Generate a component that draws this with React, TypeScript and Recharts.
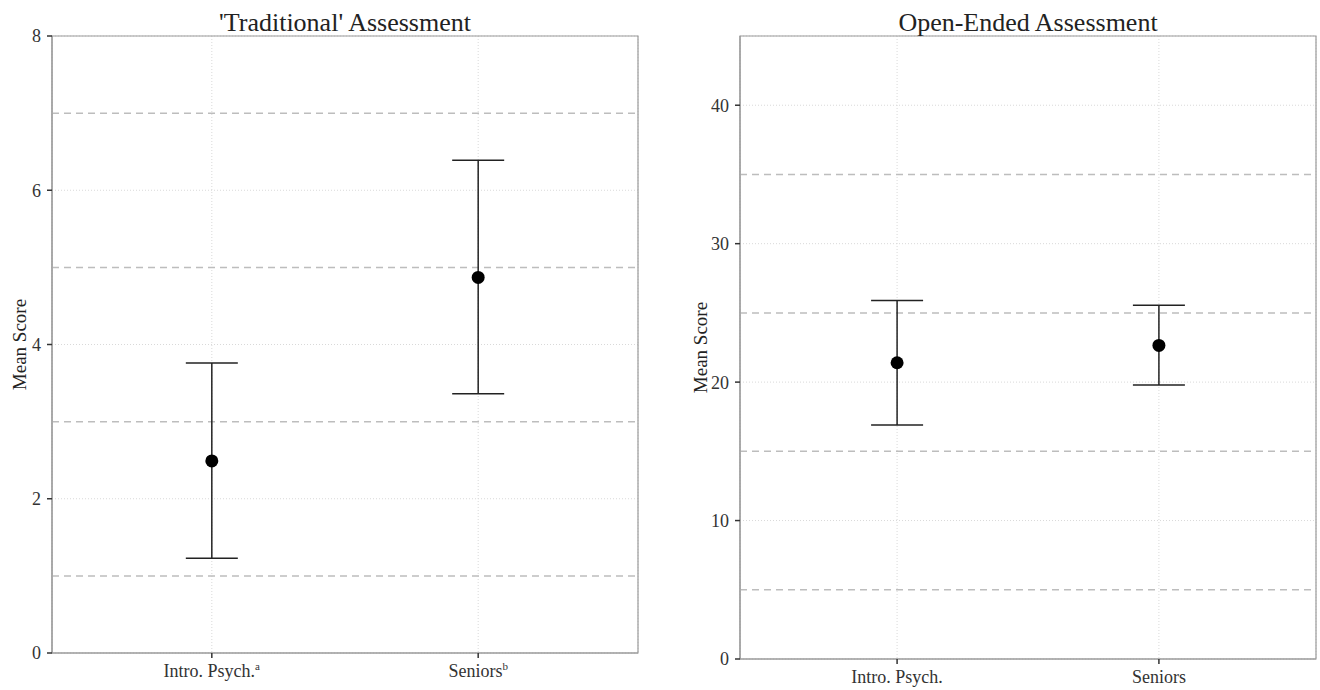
import React from 'react';
import {
  ComposedChart,
  Scatter,
  ErrorBar,
  XAxis,
  YAxis,
  CartesianGrid,
  ReferenceLine,
  ReferenceArea,
} from 'recharts';

const categories = ['Intro. Psych.', 'Seniors'];
const tradNotes = ['a', 'b'];

const tradMean = [2.49, 4.87];
const tradLow = [1.23, 3.36];
const tradHigh = [3.76, 6.39];
const tradTicks = [0, 2, 4, 6, 8];
const tradDashed = [1, 3, 5, 7];

const openMean = [21.4, 22.65];
const openLow = [16.9, 19.8];
const openHigh = [25.9, 25.55];
const openTicks = [0, 10, 20, 30, 40];
const openDashed = [5, 15, 25, 35];

const FONT = '"Liberation Serif", "DejaVu Serif", serif';

// error bar offsets are what ErrorBar wants: [below, above]
function rows(mean: number[], low: number[], high: number[]) {
  return categories.map((c, i) => ({
    x: i + 1,
    name: c,
    mean: mean[i],
    err: [mean[i] - low[i], high[i] - mean[i]],
  }));
}

const XTick = (props: any) => {
  const { x, y, payload, notes } = props;
  const i = payload.value - 1;
  return (
    <text x={x} y={y} dy={13} textAnchor="middle" fill="#333" fontSize={18} fontFamily={FONT}>
      {categories[i]}
      {notes && (
        <tspan dy={-7} fontSize={11}>
          {notes[i]}
        </tspan>
      )}
    </text>
  );
};

const YTitle = (props: any) => {
  const { viewBox, dx } = props;
  const x = viewBox.x + dx;
  const y = viewBox.y + viewBox.height / 2;
  return (
    <text
      x={x}
      y={y}
      transform={`rotate(-90 ${x} ${y})`}
      textAnchor="middle"
      fill="#222"
      fontSize={19}
      fontFamily={FONT}
    >
      Mean Score
    </text>
  );
};

const Dot = (p: any) => <circle cx={p.cx} cy={p.cy} r={6.5} fill="#000" />;

function Panel(props: any) {
  const { data, ticks, dashed, domain, width, yWidth, right, xHeight, notes, labelX } = props;
  return (
    <ComposedChart
      width={width}
      height={690}
      data={data}
      margin={{ top: 36, right, bottom: 0, left: 0 }}
    >
      <CartesianGrid stroke="#d9d9d9" strokeDasharray="1 2" />
      {dashed.map((v: number) => (
        <ReferenceLine key={v} y={v} stroke="#bdbdbd" strokeWidth={1.5} strokeDasharray="7 5" />
      ))}
      <ReferenceArea
        x1={0.4}
        x2={2.6}
        y1={domain[0]}
        y2={domain[1]}
        fill="none"
        stroke="#9a9a9a"
        strokeWidth={1.2}
        fillOpacity={0}
      />
      <XAxis
        type="number"
        dataKey="x"
        domain={[0.4, 2.6]}
        ticks={[1, 2]}
        height={xHeight}
        tickSize={5}
        tickMargin={6}
        axisLine={{ stroke: '#9a9a9a', strokeWidth: 1.2 }}
        tickLine={{ stroke: '#333', strokeWidth: 1.5 }}
        tick={<XTick notes={notes} />}
        allowDataOverflow
      />
      <YAxis
        type="number"
        dataKey="mean"
        domain={domain}
        ticks={ticks}
        width={yWidth}
        tickSize={5}
        tickMargin={6}
        axisLine={{ stroke: '#9a9a9a', strokeWidth: 1.2 }}
        tickLine={{ stroke: '#333', strokeWidth: 1.5 }}
        tick={{ fill: '#333', fontSize: 18, fontFamily: FONT }}
        label={<YTitle dx={labelX} />}
        allowDataOverflow
      />
      <Scatter dataKey="mean" shape={<Dot />} isAnimationActive={false}>
        <ErrorBar dataKey="err" direction="y" width={26} stroke="#222" strokeWidth={1.5} isAnimationActive={false} />
      </Scatter>
    </ComposedChart>
  );
}

const titleStyle: React.CSSProperties = {
  position: 'absolute',
  top: 10,
  textAlign: 'center',
  fontFamily: FONT,
  fontSize: 26,
  lineHeight: '26px',
  color: '#222',
  whiteSpace: 'nowrap',
};

export default function App() {
  return (
    <div style={{ position: 'absolute', left: 0, top: 0, width: 1320, height: 690, background: '#fff' }}>
      <div style={{ position: 'absolute', left: 0, top: 0 }}>
        <Panel
          data={rows(tradMean, tradLow, tradHigh)}
          ticks={tradTicks}
          dashed={tradDashed}
          domain={[0, 8]}
          width={660}
          yWidth={52}
          right={22}
          xHeight={37}
          notes={tradNotes}
          labelX={26}
        />
      </div>
      <div style={{ position: 'absolute', left: 680, top: 0 }}>
        <Panel
          data={rows(openMean, openLow, openHigh)}
          ticks={openTicks}
          dashed={openDashed}
          domain={[0, 45]}
          width={640}
          yWidth={60}
          right={4}
          xHeight={31}
          labelX={27}
        />
      </div>
      <div style={{ ...titleStyle, left: 52, width: 586 }}>'Traditional' Assessment</div>
      <div style={{ ...titleStyle, left: 740, width: 576 }}>Open-Ended Assessment</div>
    </div>
  );
}
